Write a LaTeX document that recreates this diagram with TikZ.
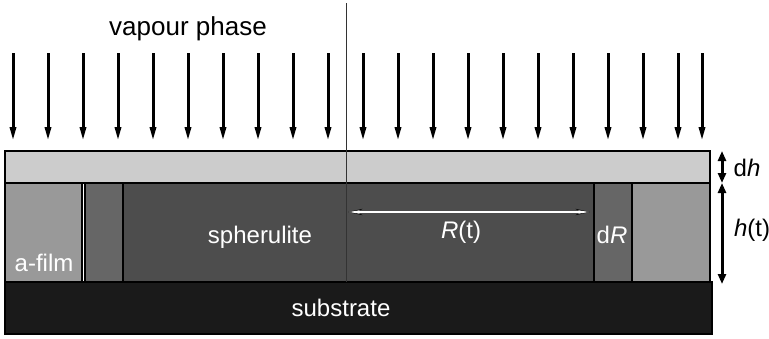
\documentclass[tikz,border=0pt]{standalone}
\usepackage{fontspec}
\setmainfont{Liberation Sans}
\usetikzlibrary{arrows.meta}
\definecolor{topc}{HTML}{CCCCCC}
\definecolor{filmc}{HTML}{999999}
\definecolor{midc}{HTML}{666666}
\definecolor{sphc}{HTML}{4D4D4D}
\definecolor{subc}{HTML}{1A1A1A}
\tikzset{
  layer/.style={draw=black,line width=2pt},
  vap/.style={line width=3pt,-{Triangle[length=14pt,width=6pt]}},
  lbl/.style={font=\fontsize{24}{28}\selectfont,inner sep=0pt},
  wlbl/.style={lbl,text=white},
  dim/.style={line width=3pt,{Triangle[length=10pt,width=8pt]}-{Triangle[length=10pt,width=8pt]}},
}
\begin{document}
\begin{tikzpicture}[x=1pt,y=-1pt]
\useasboundingbox (0,0) rectangle (769,338);
% layers
\draw[layer,fill=topc] (5,151) rectangle (710,183);
\draw[layer,fill=filmc] (5,183) rectangle (82,282);
\draw[layer,fill=midc] (85,183) rectangle (123,282);
\draw[layer,fill=sphc] (123,183) rectangle (594,282);
\draw[layer,fill=midc] (594,183) rectangle (632,282);
\draw[layer,fill=filmc] (632,183) rectangle (710,282);
\draw[layer,fill=subc] (5,282) rectangle (712,334);
% centre line
\coordinate (ctop) at (346,3);
\coordinate (cbot) at (346,282);
\draw[line width=1pt,black!80] (ctop) -- (cbot);
% vapour arrows
\foreach \x in {13,48,83,118,153,188,223,258,293,328,363,398,433,468,503,538,573,608,643,678,702}{
  \coordinate (a\x) at (\x,53);
  \coordinate (b\x) at (\x,141);
  \draw[vap] (a\x) -- (b\x);
}
% labels
\node[lbl,font=\fontsize{26}{30}\selectfont] (vap) at (188,29) {vapour phase};
\node[wlbl] (afilm) at (44,263) {a-film};
\node[wlbl] (sph) at (260,237) {spherulite};
\node[wlbl] (rt) at (461,232) {\textit{R}(t)};
\node[wlbl] (dr) at (612,235) {d\textit{R}};
\node[wlbl] (sub) at (341,308) {substrate};
\node[lbl] (dh) at (747,168) {d\textit{h}};
\node[lbl] (ht) at (752,230) {\textit{h}(t)};
% R(t) arrow
\coordinate (r1) at (348,212);
\coordinate (r2) at (590,212);
\draw[line width=2.4pt,black,{Stealth[length=14pt,width=6pt]}-{Stealth[length=14pt,width=6pt]}] (r1) -- (r2);
\draw[line width=1.2pt,white,{Stealth[length=11pt,width=3.5pt]}-{Stealth[length=11pt,width=3.5pt]},shorten <=1pt,shorten >=1pt] (r1) -- (r2);
% dimension arrows
\coordinate (d1) at (722,151);
\coordinate (d2) at (722,183);
\coordinate (d3) at (722,284);
\draw[dim] (d1) -- (d2);
\draw[dim] (d2) -- (d3);
\end{tikzpicture}
\end{document}
